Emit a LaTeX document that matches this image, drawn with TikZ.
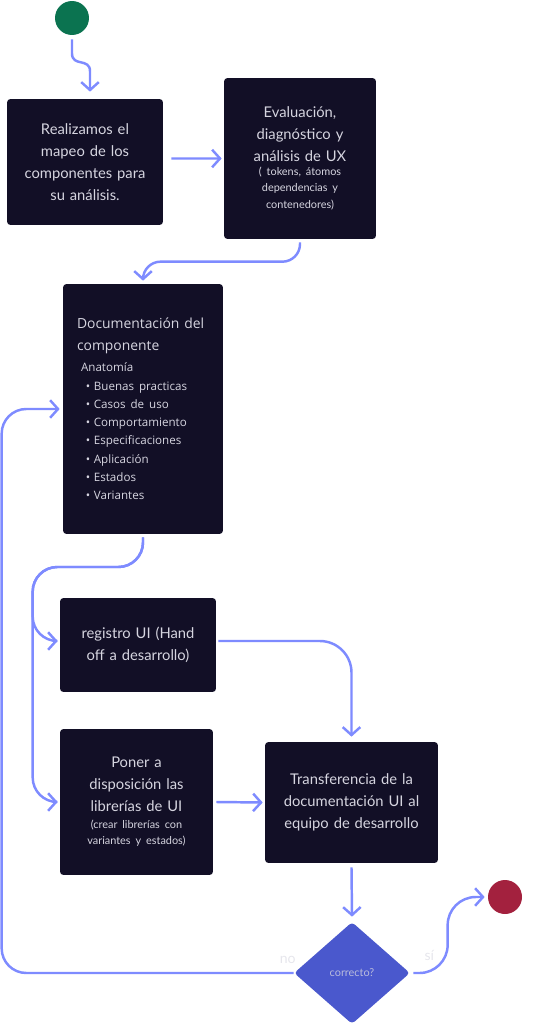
\documentclass[tikz,border=0pt]{standalone}
\usepackage{fontspec}
\setmainfont{Lato}
\newfontfamily\docfont{Open Sans}
\usetikzlibrary{arrows.meta,shapes.geometric,positioning,calc}

\definecolor{boxbg}{HTML}{120F26}
\definecolor{boxtxt}{HTML}{D6D5E0}
\definecolor{flowblue}{HTML}{7E8BFF}
\definecolor{startgreen}{HTML}{0B7350}
\definecolor{endred}{HTML}{A3213E}
\definecolor{decide}{HTML}{4A58CD}
\definecolor{lbltxt}{HTML}{E6E6EC}

\newcommand\bigtxt{\fontsize{8.4}{12.5}\selectfont}
\newcommand\smalltxt{\fontsize{6.2}{9.4}\selectfont}
\newcommand\docitem[1]{\hspace*{5pt}\makebox[4.6pt][l]{\textbullet}#1}

\tikzset{
  stepbox/.style={fill=boxbg, rounded corners=2pt, text=boxtxt, align=center,
    inner sep=0pt, font=\bigtxt},
  flow/.style={draw=flowblue, line width=1.4pt,
    -{Straight Barb[length=4.5pt,width=10pt]}, rounded corners=8pt},
  dot/.style={circle, minimum size=0.68cm, inner sep=0pt},
  lbl/.style={text=lbltxt, font=\fontsize{8}{10}\selectfont, inner sep=0pt},
}

\begin{document}
\begin{tikzpicture}[x=0.02cm, y=-0.02cm]

	\useasboundingbox (0,0) rectangle (537,1024);

	% Start and end points
	\node[dot, fill=startgreen] (start) at (72,18) {};
	\node[dot, fill=endred] (endpt) at (505,897) {};

	% Steps
	\node[stepbox, minimum width=3.12cm, minimum height=2.52cm, text width=2.9cm] (map) at (85,162)
		{Realizamos el\\ mapeo de los\\ componentes para\\ su análisis.};
	\node[stepbox, minimum width=3.04cm, minimum height=3.22cm, text width=2.9cm] (eval) at (300,158.5)
		{Evaluación,\\ diagnóstico y\\ análisis de UX\par\vspace{-1.6pt}
		{\smalltxt ( tokens, átomos\\ dependencias y\\ contenedores)\par}};
	\node[stepbox, minimum width=3.2cm, minimum height=5cm, text width=2.64cm, align=left] (doc) at (143,409)
		{{\docfont\fontsize{7.9}{12.5}\selectfont Documentación del\\ componente\par}
		\vspace{1.6pt}
		{\docfont\fontsize{6.6}{10.4}\selectfont
		\hspace*{2.3pt}Anatomía\\
		\docitem{Buenas practicas}\\
		\docitem{Casos de uso}\\
		\docitem{Comportamiento}\\
		\docitem{Especificaciones}\\
		\docitem{Aplicación}\\
		\docitem{Estados}\\
		\docitem{Variantes}\par}};
	\node[stepbox, minimum width=3.12cm, minimum height=1.88cm, text width=2.9cm] (reg) at (138,645)
		{registro UI (Hand\\ off a desarrollo)};
	\node[stepbox, minimum width=3.06cm, minimum height=2.92cm, text width=2.9cm] (pub) at (136.5,802)
		{Poner a\\ disposición las\\ librerías de UI\par
		{\smalltxt (crear librerías con\\ variantes y estados)\par}};
	\node[stepbox, minimum width=3.46cm, minimum height=2.42cm, text width=3.3cm] (transf) at (351.5,802.5)
		{Transferencia de la\\ documentación UI al\\ equipo de desarrollo};

	% Decision
	\node[diamond, fill=decide, rounded corners=2pt, minimum width=2.32cm, minimum height=2.04cm,
		inner sep=0pt, text=boxtxt!80!decide, font=\fontsize{6.2}{8}\selectfont] (check) at (352,973) {correcto?};
	\node[lbl] (no) at ($(check.west)+(-6,-13)$) {no};
	\node[lbl] (si) at ($(check.east)+(19,-18)$) {sí};

	% Connectors
	\draw[flow, rounded corners=0pt] ($(start.south)+(0,4)$) -- ++(0,14)
		to[out=-90, in=90, looseness=1.4] ++(18,18) -- ($(map.north)+(5,-7)$);
	\draw[flow, rounded corners=0pt] ($(map.east)+(8,-3.5)$) -- ($(eval.west)+(-2,0)$);
	\draw[flow, rounded corners=10pt] ($(eval.south)+(0,3)$) |- ($(doc.north)+(0,-22)$) -- ($(doc.north)+(0,-3)$);
	\draw[flow, rounded corners=14pt] ($(doc.south)+(0,3)$) |- ($(reg.west)+(-27,-78)$) |- ($(reg.west)+(-2,-4)$);
	\draw[flow, rounded corners=14pt] ($(doc.south)+(0,3)$) |- ($(reg.west)+(-27,-78)$) |- ($(pub.west)+(-2,0)$);
	\draw[flow, rounded corners=18pt] ($(reg.east)+(2,-4)$) -| ($(transf.north)+(0,-5)$);
	\draw[flow, rounded corners=0pt] ($(pub.east)+(3,0)$) -- ($(transf.west)+(-2,0)$);
	\draw[flow, rounded corners=0pt] ($(transf.south)+(0,4)$) -- ($(check.north)+(0,-5)$);

	% Loop back when not correct
	\draw[flow, rounded corners=14pt] (check.west) -| ($(doc.west)+(-61,0)$) -- ($(doc.west)+(-3,0)$);

	% Finish when correct
	\draw[flow, rounded corners=16pt] ($(check.east)+(3,0)$) -| ($(endpt.west)+(-40,0)$) -- ($(endpt.west)+(-3,0)$);

\end{tikzpicture}
\end{document}
